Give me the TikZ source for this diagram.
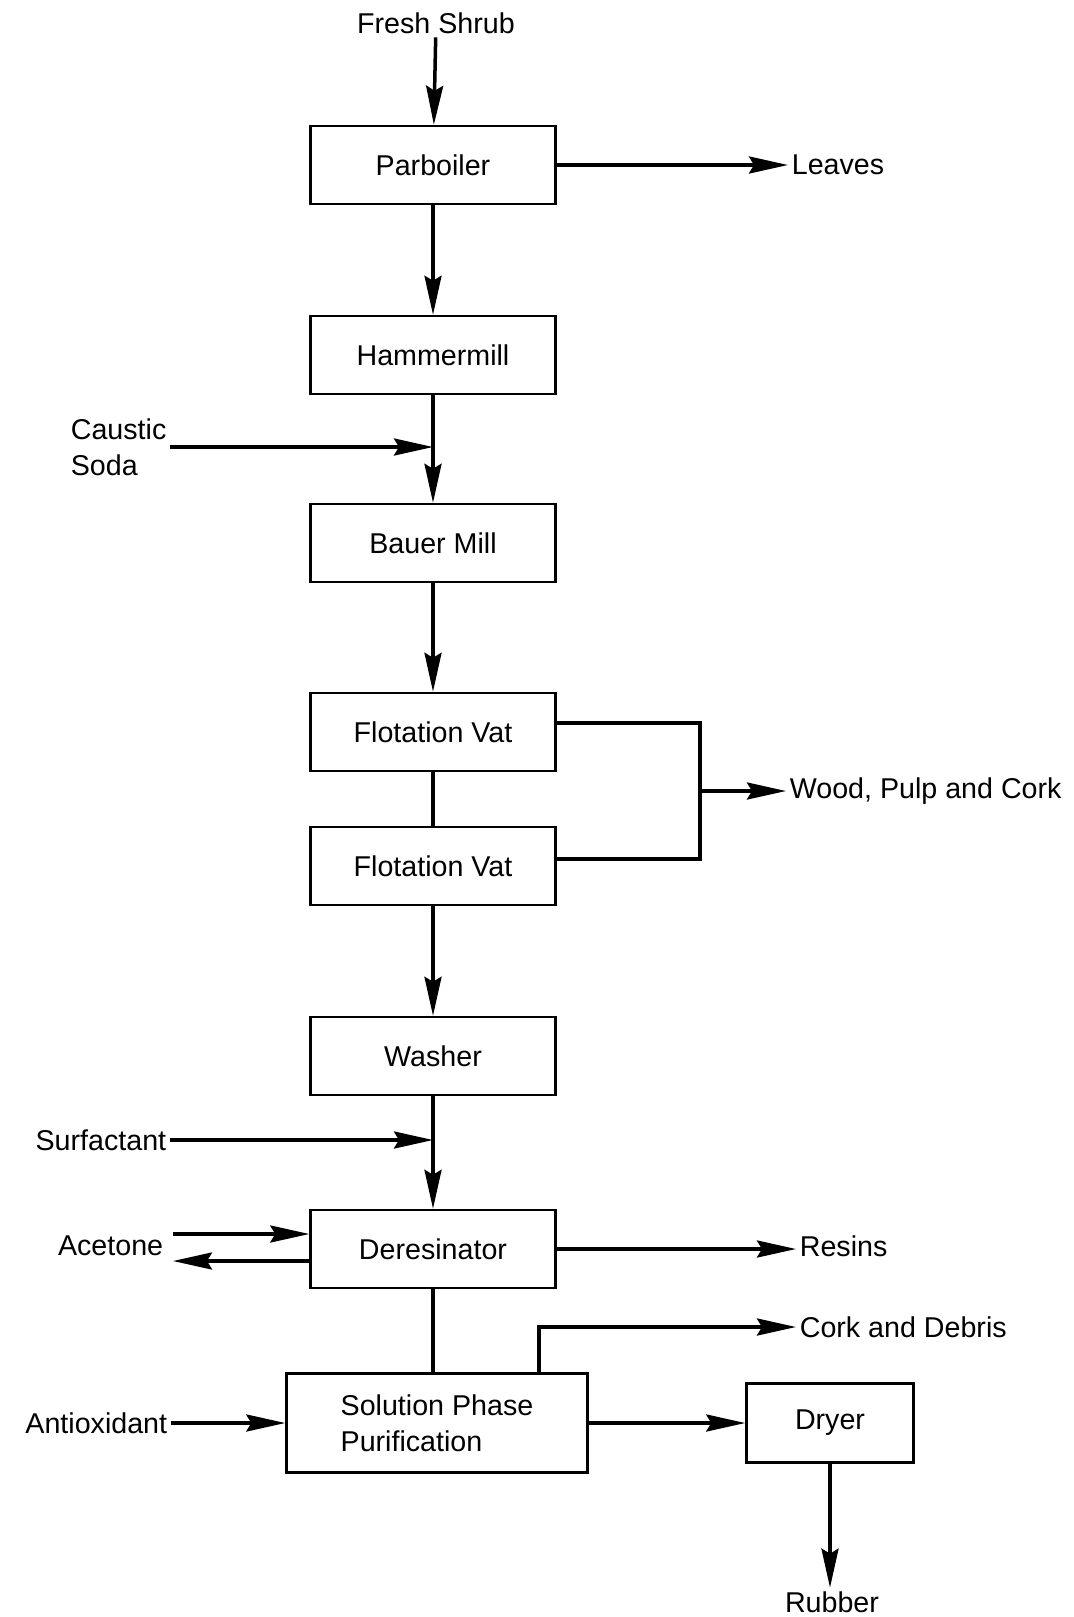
\documentclass[tikz,border=0pt]{standalone}
\usepackage{fontspec}
\setmainfont{Liberation Sans}
\usepackage{tikz}
\usetikzlibrary{arrows.meta}
\newcommand{\flowwd}{.07cm}
\newcommand{\txtsize}{\fontsize{16.3}{20.5}\selectfont}

\begin{document}
\begin{tikzpicture}[x=.02cm,y=-.02cm,
    proc/.style={draw, line width=.05cm, minimum width=4.9cm, minimum height=1.56cm, font=\txtsize},
    lbl/.style={inner sep=.07cm, font=\txtsize},
    flow/.style={line width=\flowwd, -{Stealth[length=.78cm,width=.34cm,inset=.1cm]}},
    pipe/.style={line width=\flowwd}]
      \useasboundingbox (0,0) rectangle (1073,1617);

        % process boxes
        \node (parb) at (433,165)  [proc] {Parboiler};
        \node (hammer) at (433,355)  [proc] {Hammermill};
        \node (bauer) at (433,543)  [proc] {Bauer Mill};
        \node (fvone) at (433,732)  [proc] {Flotation Vat};
        \node (fvtwo) at (433,866)  [proc] {Flotation Vat};
        \node (washer) at (433,1056)  [proc] {Washer};
        \node (deres) at (433,1249)  [proc] {Deresinator};
        \node (spp) at (437,1423)  [proc, minimum width=6.02cm, minimum height=1.98cm, align=left] {Solution Phase\\Purification};
        \node (dryer) at (830,1423)  [proc, minimum width=3.34cm, minimum height=1.58cm] {Dryer};

        % streams in and out
        \node (fresh) at (436,23)  [lbl] {Fresh Shrub};
        \node (leaves) at (788,165)  [lbl, anchor=west] {Leaves};
        \node (caustic) at (67,447)  [lbl, anchor=west, align=left] {Caustic\\Soda};
        \node (wood) at (786,791)  [lbl, anchor=west] {Wood, Pulp and Cork};
        \node (surf) at (170,1140)  [lbl, anchor=east] {Surfactant};
        \node (acetone) at (167,1246)  [lbl, anchor=east] {Acetone};
        \node (resins) at (796,1246)  [lbl, anchor=west] {Resins};
        \node (cork) at (796,1327)  [lbl, anchor=west] {Cork and Debris};
        \node (antiox) at (171,1423)  [lbl, anchor=east] {Antioxidant};
        \node (rubber) at (832,1602)  [lbl] {Rubber};
        \coordinate (acin) at (173,1234);
        \coordinate (acout) at (173,1261);
        \coordinate (junc) at (700,791);

        \draw[flow] (fresh) -- (parb);
        \draw[flow] (parb) -- (parb -| leaves.west);
        \draw[flow] (parb) -- (hammer);
        \draw[flow] (hammer) -- (bauer);
        \draw[flow] (caustic.east) -- (caustic.east -| bauer.north);
        \draw[flow] (bauer) -- (fvone);
        \draw[pipe] (fvone) -- (fvtwo);
        \draw[pipe] ([yshift=.18cm]fvone.east) -| (junc) |- ([yshift=.14cm]fvtwo.east);
        \draw[flow] (junc) -- (wood.west);
        \draw[flow] (fvtwo) -- (washer);
        \draw[flow] (washer) -- (deres);
        \draw[flow] (surf.east) -- (surf.east -| deres.north);
        \draw[flow] (acin) -- (acin -| deres.west);
        \draw[flow] (acout -| deres.west) -- (acout);
        \draw[flow] (deres) -- (deres -| resins.west);
        \draw[pipe] (deres.south) -- (deres.south |- spp.north);
        \draw[flow] ([xshift=2.04cm]spp.north) |- (cork.west);
        \draw[flow] (antiox.east) -- (spp.west);
        \draw[flow] (spp) -- (dryer);
        \draw[flow] (dryer.south) -- (dryer.south |- rubber.north);

    \end{tikzpicture}
\end{document}
